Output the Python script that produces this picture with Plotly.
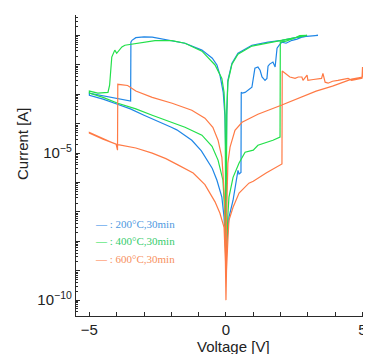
import plotly.graph_objects as go

# ---------------- data (sweep order) ----------------
v_200 = [0.005, 0.07, 0.11, 0.26, 0.37, 0.44, 0.48, 0.53, 0.55, 0.56, 0.60, 0.70, 0.85, 0.95, 1.02, 1.06, 1.17,
         1.25, 1.32, 1.43, 1.50, 1.54, 1.60, 1.72, 1.80, 1.87, 1.95, 2.05, 2.20, 2.42, 2.60, 2.80, 3.00, 3.20, 3.37,
         3.00, 2.64, 2.05, 1.54, 0.95, 0.44, 0.22, 0.07, 0.03, 0.01,
         -0.01, -0.04, -0.10, -0.22, -0.33, -0.50, -0.88, -1.50, -2.10, -2.70, -3.00, -3.30, -3.44, -3.48,
         -3.49, -4.00, -4.50, -5.00,
         -5.00, -4.50, -4.00, -3.50, -3.00, -2.50, -2.30, -2.00, -1.80, -1.50, -1.25, -0.90, -0.70, -0.50, -0.33,
         -0.15, -0.07, -0.03, -0.01]
i_200 = [5e-9, 3e-8, 6.6e-8, 2.5e-7, 9.5e-7, 2.6e-6, 1.95e-6, 2.2e-6, 2.2e-6, 1.17e-3, 1.1e-3, 1.17e-3, 1.5e-3,
         1.75e-3, 4.5e-3, 7.8e-3, 8.5e-3, 6.6e-3, 3.9e-3, 3.0e-3, 3.5e-3, 9.1e-3, 1.07e-2, 1.26e-2, 8.5e-3, 3.7e-2,
         4.7e-2, 6.0e-2, 5.5e-2, 6.9e-2, 7.6e-2, 8.9e-2, 9.5e-2, 0.100, 0.102,
         0.098, 0.089, 0.069, 0.060, 0.047, 0.025, 0.0115, 3.0e-3, 2.9e-4, 3.2e-6,
         1.26e-5, 1.95e-4, 1.17e-3, 4.5e-3, 0.010, 0.017, 0.032, 0.055, 0.069, 0.089, 0.091, 0.085, 0.069, 0.060,
         5.9e-4, 7.4e-4, 9.1e-4, 1.1e-3,
         9.3e-4, 6.9e-4, 4.7e-4, 3.2e-4, 1.95e-4, 1.23e-4, 1.05e-4, 7.6e-5, 6.2e-5, 4.1e-5, 2.75e-5, 1.2e-5,
         5.8e-6, 3.0e-6, 1.2e-6, 3.2e-7, 6.6e-8, 1.5e-8, 5e-9]

v_400 = [0.0, 0.02, 0.07, 0.11, 0.26, 0.48, 0.70, 1.00, 1.17, 1.72, 1.98, 1.99, 2.20, 2.50, 2.70, 2.97,
         2.64, 2.05, 1.54, 0.95, 0.44, 0.22, 0.07, 0.03, 0.0,
         -0.01, -0.03, -0.07, -0.15, -0.40, -0.88, -1.50, -1.98, -2.60, -2.97, -3.44, -3.70, -3.81, -4.00, -4.07,
         -4.18, -4.26, -4.32, -4.69, -5.00,
         -5.00, -4.50, -3.96, -3.30, -2.70, -2.10, -1.50, -0.88, -0.70, -0.51, -0.29, -0.11, -0.05, -0.02, 0.0]
i_400 = [1e-9, 5e-9, 8e-8, 3.2e-7, 1.5e-6, 4.6e-6, 1.07e-5, 1.26e-5, 1.86e-5, 2.75e-5, 3.5e-5, 0.060, 0.065, 0.081,
         0.100, 0.102,
         0.089, 0.067, 0.055, 0.044, 0.0234, 0.0107, 2.6e-3, 1.95e-4, 1e-9,
         1.26e-5, 1.95e-4, 1.17e-3, 3.5e-3, 0.010, 0.0295, 0.055, 0.067, 0.067, 0.060, 0.051, 0.047, 0.041, 0.025,
         0.032, 0.0186, 2.05e-3, 1.17e-3, 1.1e-3, 1.29e-3,
         1.1e-3, 7.9e-4, 5.0e-4, 3.2e-4, 1.95e-4, 1.23e-4, 7.6e-5, 4.1e-5, 2.75e-5, 1.7e-5, 5.8e-6, 1.2e-6,
         1.2e-7, 1.1e-8, 1e-9]

v_600 = [0.0, 0.02, 0.07, 0.11, 0.26, 0.48, 0.84, 1.00, 1.47, 1.80, 2.05, 2.06, 2.10, 2.34, 2.53, 2.65, 2.78, 2.82,
         2.97, 3.00, 3.20, 3.50, 3.55, 3.63, 3.74, 3.90, 4.10, 4.47, 4.60, 4.98, 5.00,
         5.00, 4.60, 3.90, 3.30, 2.70, 2.00, 1.17, 0.59, 0.33, 0.15, 0.07, 0.02, 0.0,
         -0.02, -0.05, -0.11, -0.15, -0.29, -0.48, -0.77, -1.25, -1.97, -2.70, -3.30, -3.60, -3.96,
         -3.97, -4.02, -4.50, -5.00,
         -5.00, -4.50, -4.00, -3.30, -2.70, -2.20, -1.76, -1.20, -0.77, -0.59, -0.40, -0.22, -0.07, -0.02, 0.0]
i_600 = [1e-10, 1e-9, 1.1e-8, 5.2e-8, 1.45e-7, 4.4e-7, 9.5e-7, 1.1e-6, 2.1e-6, 3.1e-6, 4.3e-6, 6.2e-3, 5.8e-3,
         3.9e-3, 3.5e-3, 3.9e-3, 3.9e-3, 3.0e-3, 4.5e-3, 3.0e-3, 3.2e-3, 3.5e-3, 5.2e-3, 2.6e-3, 2.4e-3, 2.8e-3,
         3.0e-3, 3.5e-3, 3.0e-3, 3.5e-3, 8.5e-3,
         3.9e-3, 3.3e-3, 1.9e-3, 1.29e-3, 7.9e-4, 4.2e-4, 2.1e-4, 1.12e-4, 6e-5, 1.6e-5, 4.6e-6, 5.2e-8, 1e-10,
         1.1e-8, 2.5e-7, 2.1e-6, 7.2e-6, 2.75e-5, 7.6e-5, 1.55e-4, 2.9e-4, 5.0e-4, 7.9e-4, 1.3e-3, 2.0e-3, 2.2e-3,
         1.26e-5, 2.0e-5, 3.2e-5, 5.1e-5,
         4.8e-5, 3.0e-5, 2.0e-5, 1.5e-5, 1.0e-5, 6.5e-6, 4.0e-6, 2.1e-6, 8.5e-7, 4.4e-7, 2.2e-7, 9e-8, 3e-8,
         2e-9, 1e-10]

labels = ["200°C,30min", "400°C,30min", "600°C,30min"]
x_ticks = [-5, 0, 5]
y_tick_exps = [-10, -5]

# ---------------- styling ----------------
line_colors = ["#1f86e6", "#22e04a", "#ff7a45"]
text_colors = ["#4d98e0", "#35cc6c", "#f7905e"]
axis_color = "#2a2a2a"
font_sans = "Liberation Sans, Arial, sans-serif"
font_serif = "Liberation Serif, Times New Roman, serif"

fig = go.Figure()
for vx, iy, col, lab in zip([v_200, v_400, v_600], [i_200, i_400, i_600], line_colors, labels):
    fig.add_trace(go.Scatter(x=vx, y=iy, mode="lines", name=lab,
                             line=dict(color=col, width=1.2), showlegend=False))

# page body adds an 8px offset; figure is sized to fill the rest of the window
OFF = 8
W, H = 371 - OFF, 354 - OFF
L, R, T = 76 - OFF, 0, 15 - OFF
B = H - T - 301
pw, ph = W - L - R, H - T - B

def px_x(px):
    return (px - OFF - L) / pw

def px_y(py):
    return (H - B - (py - OFF)) / ph

decades = list(range(-11, 1))
major_vals = [10.0 ** e for e in decades]
major_text = [("10<sup>−%d</sup>" % (-e)) if e in y_tick_exps else "" for e in decades]
minor_vals = [m * 10.0 ** e for e in decades for m in range(2, 10)]

fig.update_layout(
    width=W, height=H,
    margin=dict(l=L, r=R, t=T, b=B, pad=0, autoexpand=False),
    paper_bgcolor="white", plot_bgcolor="white",
    font=dict(family=font_sans, size=15, color="#222"),
    xaxis=dict(range=[-5.49, 5.31], showgrid=False, zeroline=False, automargin=False,
               showline=True, linecolor=axis_color, linewidth=1.3,
               ticks="inside", ticklen=4, tickwidth=1, tickcolor=axis_color,
               tickvals=x_ticks, ticktext=["−5", "0", "5"],
               minor=dict(dtick=1, tick0=0, ticks="inside", ticklen=4, tickcolor=axis_color, tickwidth=1),
               tickfont=dict(size=15)),
    yaxis=dict(type="log", range=[-10.54, -0.30], showgrid=False, zeroline=False, automargin=False,
               showline=True, linecolor=axis_color, linewidth=1.3,
               ticks="inside", ticklen=4, tickwidth=1, tickcolor=axis_color,
               tickmode="array", tickvals=major_vals, ticktext=major_text,
               minor=dict(tickmode="array", tickvals=minor_vals, ticks="inside", ticklen=2,
                          tickcolor=axis_color, tickwidth=1),
               tickfont=dict(size=15)),
)

# axis titles
fig.add_annotation(text="Voltage [V]", xref="paper", yref="paper", x=px_x(233), y=px_y(347),
                   xanchor="center", yanchor="middle", showarrow=False, font=dict(size=15, color="#222"))
fig.add_annotation(text="Current [A]", xref="paper", yref="paper", x=px_x(22), y=px_y(144),
                   xanchor="center", yanchor="middle", textangle=-90, showarrow=False,
                   font=dict(size=15, color="#222"))

# legend (as text)
for lab, lc, tc, py in zip(labels, line_colors, text_colors, [224, 241, 259]):
    fig.add_annotation(
        text="<span style='color:%s'>—</span><span style='color:%s'> : %s</span>" % (lc, tc, lab),
        xref="paper", yref="paper", x=px_x(93), y=px_y(py), xanchor="left", yanchor="middle",
        showarrow=False, font=dict(family=font_serif, size=11))

fig.write_html("out.html")
